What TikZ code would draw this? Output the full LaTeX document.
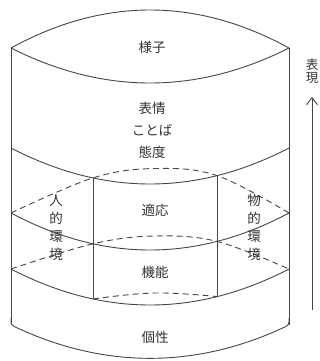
\documentclass[tikz,border=0pt]{standalone}
\usepackage{fontspec}
\newfontfamily\jp{Noto Sans CJK JP}
\usetikzlibrary{arrows.meta}
\definecolor{ink}{gray}{0.27}
\definecolor{txt}{gray}{0.2}
\tikzset{
  edge/.style={draw=ink, line width=0.9pt},
  back/.style={draw=ink, line width=0.9pt, dash pattern=on 6pt off 4pt},
  lbl/.style={text=txt, font=\jp\fontsize{13.5}{18}\selectfont, align=center, inner sep=0pt},
}
\begin{document}
\begin{tikzpicture}[x=1pt, y=-1pt]
\useasboundingbox (0,0) rectangle (320,361);
% key coordinates
\coordinate (tl) at (11,48);   \coordinate (tr) at (289,48);
\coordinate (bl) at (11,325);  \coordinate (br) at (289,325);
\coordinate (btl) at (93,177.9); \coordinate (btr) at (217,175.6);
\coordinate (bml) at (93,243.8); \coordinate (bmr) at (217,241.4);
\coordinate (bbl) at (93,299);   \coordinate (bbr) at (217,296.6);
% top ellipse
\path[edge] (tl) .. controls (103.67,-2.67) and (196.33,-2.67) .. (tr);
\path[edge] (tl) .. controls (103.67,94.67) and (196.33,94.67) .. (tr);
% sides
\path[edge] (tl) -- (bl);
\path[edge] (tr) -- (br);
% bottom
\path[edge, rounded corners=3pt] (11,318) -- (bl) .. controls (103.67,369) and (196.33,369) .. (br) -- (289,318);
% front arcs
\path[edge] (11,148) .. controls (103.67,196) and (196.33,196) .. (289,148);
\path[edge] (11,213) .. controls (103.67,262.33) and (196.33,262.33) .. (289,213);
\path[edge] (11,269) .. controls (103.67,317) and (196.33,317) .. (289,269);
% inner box verticals
\path[edge] (btl) -- (bbl);
\path[edge] (btr) -- (bbr);
% dashed back arcs
\path[back] plot[smooth, tension=0.6] coordinates {(11,213) (btl) (155,168.5) (btr) (289,213)};
\path[back] plot[smooth, tension=0.6] coordinates {(11,269) (bml) (155,236) (bmr) (289,269)};
\path[back] plot[smooth, tension=0.7] coordinates {(bbl) (155,293) (bbr)};
% arrow
\coordinate (arrB) at (312,310);
\coordinate (arrT) at (312,97);
\path[edge, -{Straight Barb[length=7pt,width=11pt]}] (arrB) -- (arrT);
% labels
\node[lbl] (yosu) at (152,47) {様子};
\node[lbl, font=\jp\fontsize{13.5}{22}\selectfont] (hyojo) at (152,130) {表情\\ことば\\態度};
\node[lbl] (teki) at (155,210) {適応};
\node[lbl] (kino) at (155,272) {機能};
\node[lbl] (kosei) at (155,337) {個性};
\node[lbl] (hito) at (56,227.5) {人\\的\\環\\境};
\node[lbl] (mono) at (254,227.5) {物\\的\\環\\境};
\node[lbl, font=\jp\fontsize{12.5}{13.5}\selectfont] (hyogen) at (312,71.5) {表\\現};
\end{tikzpicture}
\end{document}
